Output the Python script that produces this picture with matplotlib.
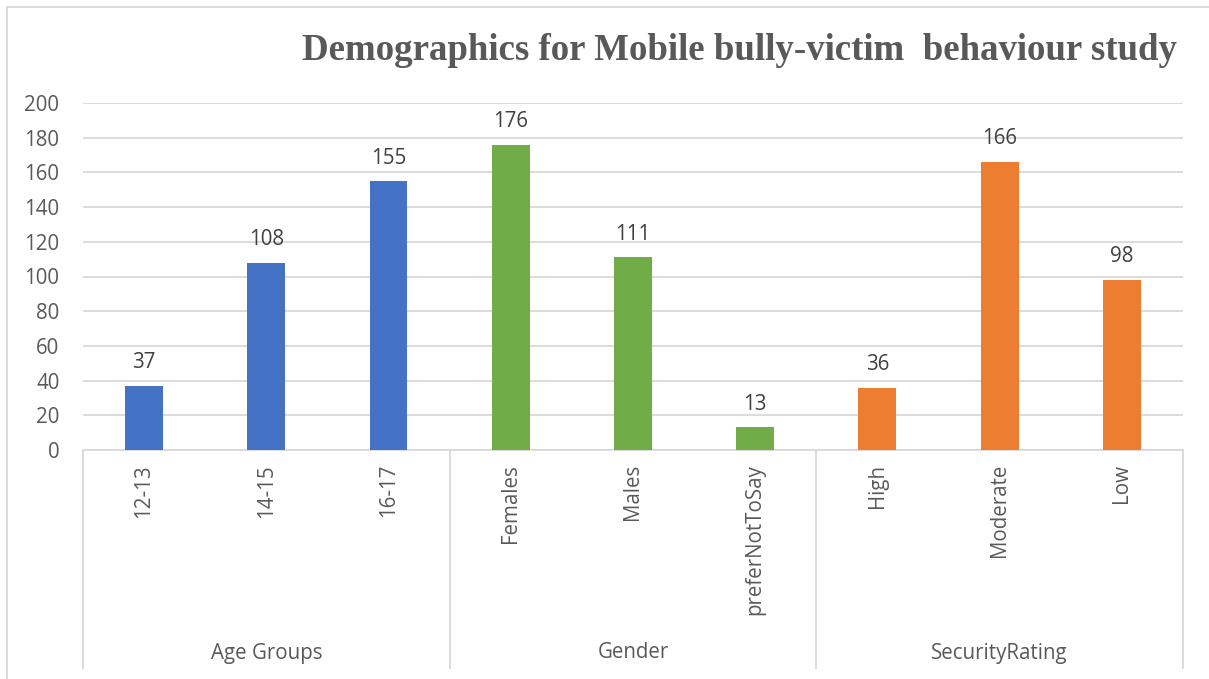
import matplotlib
matplotlib.use("Agg")
import matplotlib.pyplot as plt
from matplotlib.lines import Line2D

categories = ["12-13", "14-15", "16-17", "Females", "Males", "preferNotToSay",
              "High", "Moderate", "Low"]
values = [37, 108, 155, 176, 111, 13, 36, 166, 98]
groups = ["Age Groups", "Gender", "SecurityRating"]
group_sizes = [3, 3, 3]
group_colors = ["#4472C4", "#70AD47", "#ED7D31"]
yticks = [0, 20, 40, 60, 80, 100, 120, 140, 160, 180, 200]
title = "Demographics for Mobile bully-victim  behaviour study"

W, H = 1209, 679
fig = plt.figure(figsize=(W / 100, H / 100), dpi=100)
fig.patch.set_facecolor("white")

def fx(px):
    return px / W

def fy(py):
    return 1 - py / H

ax = fig.add_axes([fx(83), fy(450), fx(1183) - fx(83), fy(103) - fy(450)])

colors = []
for c, n in zip(group_colors, group_sizes):
    colors += [c] * n

font = "Open Sans"
fs = 14.8

x = list(range(len(categories)))
ax.bar(x, values, width=0.31, color=colors, zorder=3)
ax.set_xlim(-0.5, len(categories) - 0.5)
ax.set_ylim(0, 200)
ax.set_yticks(yticks)
ax.grid(axis="y", color="#d9d9d9", linewidth=1.3, zorder=0)
for s in ["top", "right", "left"]:
    ax.spines[s].set_visible(False)
ax.spines["bottom"].set_color("#d9d9d9")
ax.spines["bottom"].set_linewidth(1.3)
ax.tick_params(axis="y", length=0, pad=17, labelsize=fs, labelcolor="#595959")
ax.tick_params(axis="x", length=0)
ax.set_xticks(x)
ax.set_xticklabels([])
for lab in ax.get_yticklabels():
    lab.set_fontfamily(font)

# value labels
for xi, v in zip(x, values):
    ax.annotate(str(v), (xi, v), xytext=(0, 9), textcoords="offset points",
                ha="center", va="bottom", fontsize=fs, color="#404040",
                fontfamily=font)

# category labels (rotated)
trans = ax.get_xaxis_transform()
for xi, c in zip(x, categories):
    ax.text(xi, -14 / 347, c, transform=trans, rotation=90, ha="center",
            va="top", fontsize=fs, color="#595959", fontfamily=font)

# group labels and separators
start = 0
bounds = [-0.5]
for g, n in zip(groups, group_sizes):
    center = start + (n - 1) / 2
    ax.text(center, -(653 - 450) / 347, g, transform=trans, ha="center",
            va="center", fontsize=fs, color="#595959", fontfamily=font)
    start += n
    bounds.append(start - 0.5)
for b in bounds:
    ax.add_line(Line2D([b, b], [0, -(668 - 450) / 347], transform=trans,
                       color="#d9d9d9", linewidth=1.3, clip_on=False))

# title
fig.text(fx(739), fy(51), title, ha="center", va="center", fontsize=26.6,
         fontweight="bold", color="#595959", fontfamily="Liberation Serif")

# outer frame lines
fig.add_artist(Line2D([fx(7), 1], [fy(7), fy(7)], color="#d9d9d9", linewidth=1.3))
fig.add_artist(Line2D([fx(7), fx(7)], [fy(7), 0], color="#d9d9d9", linewidth=1.3))

fig.savefig("out.png", dpi=100)
